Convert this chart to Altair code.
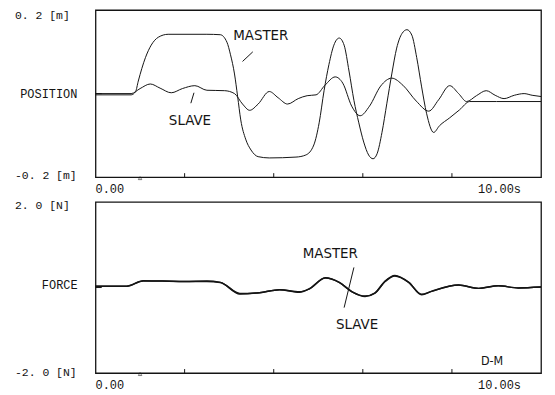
import altair as alt
import pandas as pd

# ---------------- data ----------------
# POSITION panel (m) : MASTER
pos_master_t = [0.0, 0.8, 0.9, 0.96, 1.12, 1.25, 1.41, 1.63, 2.5, 2.8, 2.95, 3.03, 3.12, 3.19,
                3.26, 3.37, 3.49, 3.65, 3.9, 4.5, 4.72, 4.9, 5.02, 5.13, 5.24, 5.35, 5.47,
                5.58, 5.69, 5.8, 5.91, 6.02, 6.13, 6.23, 6.32, 6.43, 6.54, 6.65, 6.76, 6.88,
                6.99, 7.1, 7.21, 7.32, 7.43, 7.59, 7.72, 7.95, 8.17, 8.4, 9.0, 10.0]
pos_master_v = [-0.003, -0.003, 0.005, 0.030, 0.086, 0.116, 0.135, 0.142, 0.142, 0.141, 0.123,
                0.093, 0.047, -0.007, -0.063, -0.109, -0.135, -0.151, -0.154, -0.152, -0.147,
                -0.123, -0.070, 0.007, 0.070, 0.116, 0.133, 0.116, 0.054, -0.016, -0.070,
                -0.116, -0.147, -0.156, -0.144, -0.093, -0.023, 0.047, 0.109, 0.144, 0.153,
                0.140, 0.086, 0.016, -0.047, -0.093, -0.077, -0.058, -0.039, -0.019, -0.019,
                -0.019]

# POSITION panel (m) : SLAVE
pos_slave_t = [0.0, 0.8, 1.0, 1.23, 1.45, 1.7, 1.95, 2.23, 2.5, 2.9, 3.12, 3.3, 3.46, 3.65,
               3.9, 4.1, 4.31, 4.55, 4.75, 4.95, 5.15, 5.38, 5.55, 5.75, 5.94, 6.15, 6.4,
               6.65, 6.9, 7.2, 7.48, 7.7, 7.95, 8.15, 8.33, 8.55, 8.77, 8.97, 9.17, 9.4,
               9.62, 9.8, 10.0]
pos_slave_v = [0.0, 0.0, 0.012, 0.023, 0.013, 0.002, 0.012, 0.019, 0.008, 0.007, 0.0, -0.025,
               -0.040, -0.025, 0.005, -0.010, -0.025, -0.012, -0.005, -0.003, 0.020, 0.040,
               0.025, -0.030, -0.053, -0.030, 0.018, 0.037, 0.020, -0.018, -0.042, -0.015,
               0.019, 0.0, -0.019, -0.005, 0.007, -0.004, -0.012, -0.004, 0.000, -0.004,
               -0.007]

# FORCE panel (N)
force_t = [0.0, 0.7, 1.07, 1.5, 2.0, 2.5, 2.8, 3.24, 3.68, 4.13, 4.58, 4.8, 5.16, 5.47, 5.76,
           6.05, 6.27, 6.5, 6.72, 7.03, 7.32, 7.54, 8.15, 8.6, 9.04, 9.49, 10.0]
force_master = [0.03, 0.03, 0.16, 0.15, 0.14, 0.15, 0.12, -0.15, -0.12, -0.05, -0.11, -0.03,
                0.23, 0.12, -0.10, -0.21, -0.13, 0.15, 0.28, 0.12, -0.17, -0.09, 0.06, -0.02,
                0.04, -0.01, 0.01]
force_slave = [0.03, 0.03, 0.15, 0.15, 0.14, 0.14, 0.12, -0.14, -0.12, -0.05, -0.10, -0.03,
               0.22, 0.12, -0.10, -0.20, -0.13, 0.14, 0.27, 0.12, -0.16, -0.09, 0.06, -0.02,
               0.04, -0.01, 0.01]

series_names = ["MASTER", "SLAVE"]
pos_limit_labels = ["0. 2 [m]", "-0. 2 [m]"]
pos_name = "POSITION"
force_limit_labels = ["2. 0 [N]", "-2. 0 [N]"]
force_name = "FORCE"
x_labels = ["0.00", "10.00s"]
minor_ticks = [2, 4, 6, 8]
corner_tag = "D-M"

# ---------------- layout ----------------
W = 448
H_TOP = 168
H_BOT = 172
MONO = "Liberation Mono, DejaVu Sans Mono, monospace"
HAND = "Liberation Sans Narrow, DejaVu Sans Condensed, sans-serif"
INK = "#141414"

XS = alt.Scale(domain=[0, 10], nice=False, zero=False)


def yscale(lo, hi):
    return alt.Scale(domain=[lo, hi], nice=False, zero=False)


def build_panel(lines_df, lo, hi, height, limit_labels, limit_pos, name, name_pos,
                name_x, ann_df, leader_df, line_w, extra=None):
    ys = yscale(lo, hi)
    base_x = alt.X("t:Q", scale=XS, axis=None)
    base_y = alt.Y("v:Q", scale=ys, axis=None)

    lines = alt.Chart(lines_df).mark_line(
        interpolate="monotone", color=INK, strokeWidth=line_w
    ).encode(x=base_x, y=base_y, detail="series:N")

    tick_h = (hi - lo) * 4.0 / height
    ticks_df = pd.DataFrame({"t": minor_ticks, "v": [lo] * len(minor_ticks),
                             "v2": [lo + tick_h] * len(minor_ticks)})
    ticks = alt.Chart(ticks_df).mark_rule(color=INK, strokeWidth=1).encode(
        x=base_x, y=base_y, y2="v2:Q")

    zero_df = pd.DataFrame({"t": [0.0], "t2": [0.14], "v": [0.0]})
    zero_tick = alt.Chart(zero_df).mark_rule(color=INK, strokeWidth=1).encode(
        x=base_x, x2="t2:Q", y=base_y)

    tri_df = pd.DataFrame({"t": [1.0], "v": [lo]})
    tri = alt.Chart(tri_df).mark_point(
        shape="triangle-up", size=12, filled=False, color=INK, strokeWidth=0.8,
        yOffset=1).encode(x=base_x, y=base_y)

    lim_df = pd.DataFrame({"v": limit_pos, "label": limit_labels})
    lims = alt.Chart(lim_df).mark_text(
        font=MONO, fontSize=11.5, align="left", baseline="middle", color=INK
    ).encode(x=alt.value(-81), y=alt.Y("v:Q", scale=ys, axis=None), text="label:N")

    name_df = pd.DataFrame({"v": [name_pos], "label": [name]})
    nm = alt.Chart(name_df).mark_text(
        font=MONO, fontSize=12, align="center", baseline="middle", color=INK
    ).encode(x=alt.value(name_x), y=alt.Y("v:Q", scale=ys, axis=None), text="label:N")

    xl_df = pd.DataFrame({"t": [0.0], "v": [lo], "label": [x_labels[0]]})
    xl0 = alt.Chart(xl_df).mark_text(
        font=MONO, fontSize=12, align="left", baseline="middle", dy=12, color=INK
    ).encode(x=base_x, y=base_y, text="label:N")
    xr_df = pd.DataFrame({"t": [9.55], "v": [lo], "label": [x_labels[1]]})
    xl1 = alt.Chart(xr_df).mark_text(
        font=MONO, fontSize=12, align="right", baseline="middle", dy=12, color=INK
    ).encode(x=base_x, y=base_y, text="label:N")

    ann = alt.Chart(ann_df).mark_text(
        font=HAND, fontSize=15, align="center", baseline="middle", color=INK
    ).encode(x=base_x, y=base_y, text="label:N")

    lead = alt.Chart(leader_df).mark_rule(color=INK, strokeWidth=1).encode(
        x=base_x, y=base_y, x2="t2:Q", y2="v2:Q")

    layers = [lines, ticks, zero_tick, tri, lims, nm, xl0, xl1, ann, lead]
    if extra is not None:
        layers.append(extra)
    return alt.layer(*layers).properties(width=W, height=height)


pos_df = pd.concat([
    pd.DataFrame({"t": pos_master_t, "v": pos_master_v, "series": series_names[0]}),
    pd.DataFrame({"t": pos_slave_t, "v": pos_slave_v, "series": series_names[1]}),
])
force_df = pd.concat([
    pd.DataFrame({"t": force_t, "v": force_master, "series": series_names[0]}),
    pd.DataFrame({"t": force_t, "v": force_slave, "series": series_names[1]}),
])

top_ann = pd.DataFrame({"t": [3.71, 2.12], "v": [0.14, -0.063], "label": series_names})
top_lead = pd.DataFrame({"t": [3.53, 2.21], "v": [0.100, 0.002],
                         "t2": [3.30, 2.14], "v2": [0.077, -0.023]})

bot_ann = pd.DataFrame({"t": [5.27, 5.87], "v": [0.81, -0.86], "label": series_names})
bot_lead = pd.DataFrame({"t": [5.80], "v": [0.47], "t2": [5.58], "v2": [-0.47]})

tag_df = pd.DataFrame({"t": [8.9], "v": [-1.72], "label": [corner_tag]})
tag = alt.Chart(tag_df).mark_text(
    font=HAND, fontSize=12.5, align="center", baseline="middle", color=INK
).encode(x=alt.X("t:Q", scale=XS, axis=None),
         y=alt.Y("v:Q", scale=yscale(-2, 2), axis=None), text="label:N")

top = build_panel(pos_df, -0.2, 0.2, H_TOP, pos_limit_labels, [0.186, -0.198],
                  pos_name, 0.0, -47, top_ann, top_lead, 1.0)
bottom = build_panel(force_df, -2.0, 2.0, H_BOT, force_limit_labels, [1.91, -2.0],
                     force_name, 0.07, -36, bot_ann, bot_lead, 1.5, extra=tag)

chart = alt.VConcatChart(vconcat=[top, bottom], spacing=25, bounds="flush").properties(
    padding={"left": 6, "top": 0, "right": 2, "bottom": 2},
    background="white",
).configure_view(stroke=INK, strokeWidth=1.3)

chart.save("out.html", embed_options={"renderer": "svg", "actions": False})
